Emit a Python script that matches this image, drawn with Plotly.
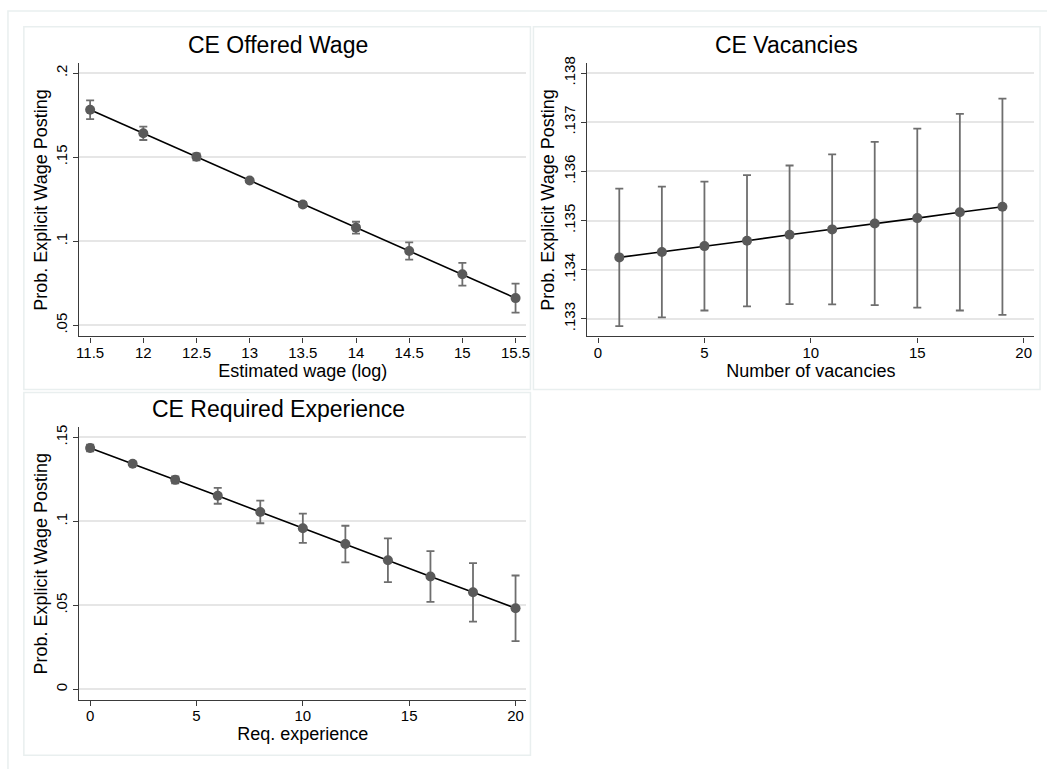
import plotly.graph_objects as go

# ---------------- data ----------------
wage_x = [11.5, 12, 12.5, 13, 13.5, 14, 14.5, 15, 15.5]
wage_y = [0.1782, 0.1642, 0.1502, 0.1361, 0.1219, 0.1081, 0.0942, 0.0804, 0.0662]
wage_err = [0.0056, 0.0040, 0.0021, 0.0006, 0.0015, 0.0035, 0.0051, 0.0068, 0.0086]

vac_x = [1, 3, 5, 7, 9, 11, 13, 15, 17, 19]
vac_y = [0.13425, 0.13436, 0.13448, 0.13459, 0.13471, 0.13482, 0.13494, 0.13505, 0.13517, 0.13528]
vac_err = [0.00140, 0.00133, 0.00131, 0.001335, 0.00141, 0.001525, 0.00166, 0.00182, 0.00200, 0.00220]

exp_x = [0, 2, 4, 6, 8, 10, 12, 14, 16, 18, 20]
exp_y = [0.1437, 0.1343, 0.1247, 0.1152, 0.1056, 0.0959, 0.0865, 0.0769, 0.0672, 0.0578, 0.0483]
exp_err = [0.0020, 0.0006, 0.0020, 0.0047, 0.0067, 0.0087, 0.0109, 0.0130, 0.0151, 0.0174, 0.0195]

titles = ["CE Offered Wage", "CE Vacancies", "CE Required Experience"]
x_titles = ["Estimated wage (log)", "Number of vacancies", "Req. experience"]
y_title = "Prob. Explicit Wage Posting"

wage_xticks = [11.5, 12, 12.5, 13, 13.5, 14, 14.5, 15, 15.5]
wage_xtext = ["11.5", "12", "12.5", "13", "13.5", "14", "14.5", "15", "15.5"]
wage_yticks = [0.05, 0.1, 0.15, 0.2]
wage_ytext = [".05", ".1", ".15", ".2"]
vac_xticks = [0, 5, 10, 15, 20]
vac_yticks = [0.133, 0.134, 0.135, 0.136, 0.137, 0.138]
vac_ytext = [".133", ".134", ".135", ".136", ".137", ".138"]
exp_xticks = [0, 5, 10, 15, 20]
exp_yticks = [0, 0.05, 0.1, 0.15]
exp_ytext = ["0", ".05", ".1", ".15"]

# ---------------- layout helpers ----------------
W, H = 1047, 769
FONT = "Liberation Sans, Arial, sans-serif"
MARK = "#5a5a5a"
ERR = "#6e6e6e"
GRID = "#e6e6e6"
AX = "#3a3a3a"
BOX = "#e9efef"


def xdom(a, b):
    return [a / W, b / W]


def ydom(top, bottom):
    return [(H - bottom) / H, (H - top) / H]


fig = go.Figure()

panels = [
    dict(x=wage_x, y=wage_y, e=wage_err, xa="x", ya="y"),
    dict(x=vac_x, y=vac_y, e=vac_err, xa="x2", ya="y2"),
    dict(x=exp_x, y=exp_y, e=exp_err, xa="x3", ya="y3"),
]
for p in panels:
    fig.add_trace(go.Scatter(
        x=p["x"], y=p["y"], xaxis=p["xa"], yaxis=p["ya"],
        mode="lines+markers",
        line=dict(color="black", width=1.6),
        marker=dict(color=MARK, size=10, symbol="circle", line=dict(width=0)),
        error_y=dict(type="data", array=p["e"], visible=True,
                     color=ERR, thickness=1.8, width=4),
        showlegend=False, hoverinfo="x+y",
    ))

TICK = 15
ATITLE = 18
common_x = dict(showline=True, linecolor=AX, linewidth=1.3, ticks="outside",
                ticklen=5, tickcolor=AX, tickwidth=1.3, showgrid=False,
                zeroline=False, tickfont=dict(size=TICK, color="black", family=FONT),
                ticklabelstandoff=-3,
                title_font=dict(size=ATITLE, color="black", family=FONT),
                title_standoff=0)
common_y = dict(showline=True, linecolor=AX, linewidth=1.3, ticks="outside",
                ticklen=5, tickcolor=AX, tickwidth=1.3, showgrid=True,
                gridcolor=GRID, gridwidth=1.5, zeroline=False, tickangle=-90,
                tickfont=dict(size=TICK, color="black", family=FONT),
                title_font=dict(size=ATITLE, color="black", family=FONT),
                title_standoff=1)

fig.update_layout(
    width=W, height=H,
    margin=dict(l=0, r=0, t=0, b=0),
    paper_bgcolor="white", plot_bgcolor="white",
    font=dict(family=FONT, color="black"),
    xaxis=dict(common_x, domain=xdom(77, 526.7), range=[11.4, 15.6],
               tickvals=wage_xticks, ticktext=wage_xtext, anchor="y",
               title_text=x_titles[0]),
    yaxis=dict(common_y, domain=ydom(57, 332.5), range=[0.0434, 0.2057],
               tickvals=wage_yticks, ticktext=wage_ytext, anchor="x",
               title_text=y_title),
    xaxis2=dict(common_x, domain=xdom(588.3, 1038.3), range=[-0.5, 20.5],
                tickvals=vac_xticks, anchor="y2", title_text=x_titles[1]),
    yaxis2=dict(common_y, domain=ydom(57, 332.5), range=[0.132641, 0.138196],
                tickvals=vac_yticks, ticktext=vac_ytext, anchor="x2",
                title_text=y_title),
    xaxis3=dict(common_x, domain=xdom(77, 526.7), range=[-0.5, 20.5],
                tickvals=exp_xticks, anchor="y3", title_text=x_titles[2]),
    yaxis3=dict(common_y, domain=ydom(424.3, 699.5), range=[-0.00637, 0.1559],
                tickvals=exp_yticks, ticktext=exp_ytext, anchor="x3",
                title_text=y_title),
)

# panel titles
title_pos = [(277, 38.3), (788.5, 38.3), (277, 405.7)]
for t, (px, py) in zip(titles, title_pos):
    fig.add_annotation(text=t, x=px / W, y=(H - py) / H, xref="paper", yref="paper",
                       xanchor="center", yanchor="middle", showarrow=False,
                       font=dict(size=23, color="black", family=FONT))

# outer and panel boxes
def box(x0, y0, x1, y1, color=BOX):
    fig.add_shape(type="rect", xref="paper", yref="paper",
                  x0=x0 / W, x1=x1 / W, y0=(H - y1) / H, y1=(H - y0) / H,
                  line=dict(color=color, width=1.5), fillcolor="rgba(0,0,0,0)",
                  layer="below")

box(5, 4, 1075, 800)
box(21, 20, 531, 386)
box(534, 20, 1044, 386)
box(21, 389, 531, 755)

fig.write_html(
    "out.html",
    config={"displayModeBar": False},
    post_script=(
        "document.documentElement.style.margin='0';"
        "document.documentElement.style.overflow='hidden';"
        "document.body.style.margin='0';document.body.style.padding='0';"
        "document.body.style.overflow='hidden';"
        "var d=document.getElementById('{plot_id}');"
        "d.style.position='fixed';d.style.left='0px';d.style.top='0px';"
    ),
)
